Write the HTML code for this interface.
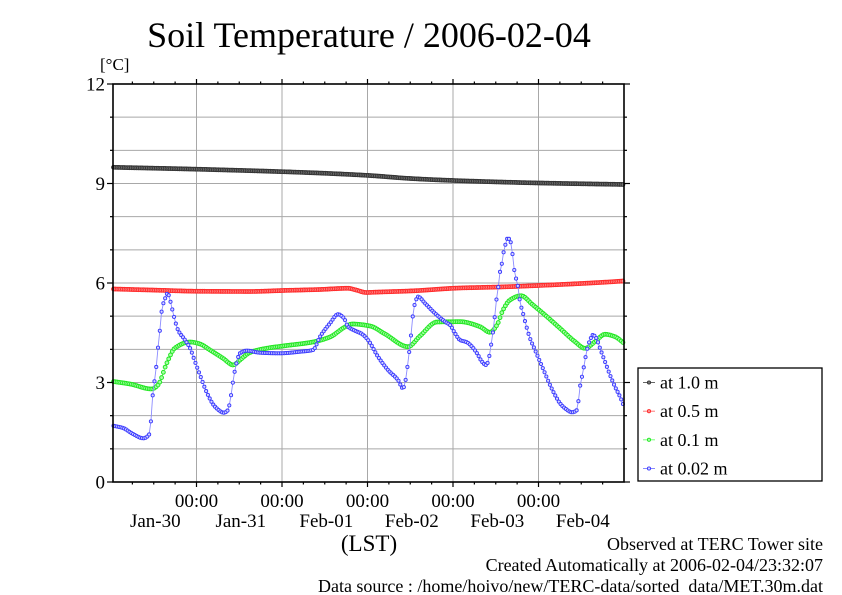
<!DOCTYPE html>
<html>
<head>
<meta charset="utf-8">
<style>
html,body{margin:0;padding:0;background:#fff;}
svg{display:block;}
text{font-family:"Liberation Serif","DejaVu Serif",serif;fill:#000;}
</style>
</head>
<body>
<svg id="s" xmlns="http://www.w3.org/2000/svg" width="842" height="595" viewBox="0 0 842 595">
<rect x="0" y="0" width="842" height="595" fill="#fff"/>
<text x="369" y="47" font-size="36" text-anchor="middle">Soil Temperature / 2006-02-04</text>
<text x="100" y="70" font-size="17">[°C]</text>
<g id="grid"></g>
<g id="series"></g>
<g id="axes"></g>
<g font-size="19" text-anchor="end">
<text x="105" y="90.5">12</text>
<text x="105" y="190">9</text>
<text x="105" y="289.5">6</text>
<text x="105" y="389">3</text>
<text x="105" y="488.5">0</text>
</g>
<g font-size="19" text-anchor="middle">
<text x="196.5" y="507">00:00</text>
<text x="282" y="507">00:00</text>
<text x="367.5" y="507">00:00</text>
<text x="453" y="507">00:00</text>
<text x="538.5" y="507">00:00</text>
<text x="155.3" y="527">Jan-30</text>
<text x="240.8" y="527">Jan-31</text>
<text x="326.3" y="527">Feb-01</text>
<text x="411.8" y="527">Feb-02</text>
<text x="497.3" y="527">Feb-03</text>
<text x="582.8" y="527">Feb-04</text>
</g>
<text x="369" y="551" font-size="23" text-anchor="middle">(LST)</text>
<g font-size="18" text-anchor="end">
<text x="823" y="550">Observed at TERC Tower site</text>
<text x="823" y="571">Created Automatically at 2006-02-04/23:32:07</text>
<text x="823" y="592">Data source : /home/hoivo/new/TERC-data/sorted &#160;data/MET.30m.dat</text>
</g>
<rect x="638" y="368" width="184" height="113" fill="#fff" stroke="#000" stroke-width="1.3"/>
<g id="leg"></g>
<g font-size="18">
<text x="660" y="388.5">at 1.0 m</text>
<text x="660" y="417.2">at 0.5 m</text>
<text x="660" y="445.8">at 0.1 m</text>
<text x="660" y="474.5">at 0.02 m</text>
</g>
</svg>
<script>
(function(){
var NS="http://www.w3.org/2000/svg";
function el(parent,name,attrs){var e=document.createElementNS(NS,name);for(var k in attrs)e.setAttribute(k,attrs[k]);parent.appendChild(e);return e;}
var X0=113,X1=624,Y0=84,Y1=482,U=(Y1-Y0)/12;
var grid=document.getElementById('grid'),axes=document.getElementById('axes'),ser=document.getElementById('series'),leg=document.getElementById('leg');
for(var v=1;v<12;v++){var y=Y1-v*U;el(grid,'line',{x1:X0,x2:X1,y1:y,y2:y,stroke:'#a8a8a8','stroke-width':1});}
for(var k=0;k<5;k++){var x=196.5+85.5*k;el(grid,'line',{x1:x,x2:x,y1:Y0,y2:Y1,stroke:'#a8a8a8','stroke-width':1});}
for(var v=0;v<=12;v++){var y=Y1-v*U;var L=(v%3==0)?6:3;
 el(axes,'line',{x1:X0-L,x2:X0,y1:y,y2:y,stroke:'#000','stroke-width':1.2});
 el(axes,'line',{x1:X1,x2:X1+L,y1:y,y2:y,stroke:'#000','stroke-width':1.2});}
for(var k=-3;k<=20;k++){var x=196.5+21.375*k;if(x<X0+2||x>X1-1)continue;var L=(k%4==0)?5:2.5;
 el(axes,'line',{x1:x,x2:x,y1:Y1,y2:Y1+L,stroke:'#000','stroke-width':1.2});
 el(axes,'line',{x1:x,x2:x,y1:Y0-L,y2:Y0,stroke:'#000','stroke-width':1.2});}
el(axes,'rect',{x:X0,y:Y0,width:X1-X0,height:Y1-Y0,fill:'none',stroke:'#000','stroke-width':1.6});

function mono(P){
 var n=P.length,xs=[],ys=[],h=[],d=[],m=[];
 for(var i=0;i<n;i++){xs.push(P[i][0]);ys.push(P[i][1]);}
 for(var i=0;i<n-1;i++){h[i]=xs[i+1]-xs[i];d[i]=(ys[i+1]-ys[i])/h[i];}
 m[0]=d[0];m[n-1]=d[n-2];
 for(var i=1;i<n-1;i++){
  if(d[i-1]*d[i]<=0){m[i]=0;}
  else{var w1=2*h[i]+h[i-1],w2=h[i]+2*h[i-1];m[i]=(w1+w2)/(w1/d[i-1]+w2/d[i]);}
 }
 return function(x){
  var i=0;while(i<n-2&&x>xs[i+1])i++;
  var hh=h[i],t=(x-xs[i])/hh;if(t<0)t=0;if(t>1)t=1;
  var t2=t*t,t3=t2*t;
  return (2*t3-3*t2+1)*ys[i]+(t3-2*t2+t)*hh*m[i]+(-2*t3+3*t2)*ys[i+1]+(t3-t2)*hh*m[i+1];
 };
}
var black=[[113,167.3],[200,169.3],[310,172.7],[369,175.5],[410,178.5],[453,180.5],[539,183],[624,184.5]];
var red=[[113,289],[150,290],[200,291.3],[250,291.5],[283,290.5],[320,289.5],[348,288.3],[356,290],[366,292.5],[380,292],[410,291],[460,288],[500,287],[550,285],[600,282.5],[624,281]];
var green=[[113,381.5],[130,384],[151.7,389],[158,385],[166.7,363.3],[175,348],[190,342],[200,344],[210,350],[223,358.3],[233.3,365],[240,360],[250,352.5],[266.7,348.3],[283,346],[313,342],[330,337],[345,327],[352,324],[370,326],[385,334],[408,346.7],[420,336],[437,322],[460,321.7],[480,326.7],[490,332.3],[497,325],[503,310],[510,300],[521,295.7],[533,305],[545,315],[560,328.3],[575,341.7],[585,348.3],[595,341.7],[605,334.3],[615,336.7],[624,343.3]];
var blue=[[113,425.7],[123,428],[133,434],[143.3,438.3],[148,436],[150,432],[151,420],[152,401.7],[153.7,388],[155,376.7],[156.7,363],[158,348],[159.3,335.7],[161,319],[162,308],[164,301.7],[167.7,293.3],[170,300],[174,316.7],[178,330],[185,340],[190,348],[195,361.7],[200,375],[207,393],[215,406.7],[224,412.7],[228,410],[230,401.7],[233,381.7],[236,365],[240,353.3],[247,350.7],[260,352.7],[280,353.3],[300,351.7],[313,350],[320,336.7],[330,323.3],[338,314.3],[344,318.3],[348,326.7],[355,330.7],[362,334],[368,340],[378,356.7],[388,370],[398,380],[403,388.3],[406,378],[408,361.7],[410,345],[411.7,328],[413.3,311.7],[415,303.3],[418,296.7],[425,303.3],[435,313.3],[445,321.7],[450,325],[455,333.3],[460,340],[467,342.3],[472,346.7],[477,353.3],[482,361.7],[486,365],[489,358.3],[490,350],[491.7,341.7],[493,331.7],[494.3,320],[495.7,310],[497,293.3],[498.3,286.7],[499,276.7],[501,268.3],[502.7,258.3],[504,250],[505.3,245],[507.7,238.3],[510,240],[512,250],[514,268.3],[516,278.3],[518,286.7],[520,301.7],[523,313.3],[526,325],[530,338.3],[535,350],[540,361.7],[545,373.3],[550,385],[555,395],[560,403.3],[565,408.3],[572,412.3],[577,410],[580,386.7],[583,371.7],[585,360],[587,350],[590,340],[593,335],[596,337.7],[600,348.3],[605,361.7],[610,375],[615,386.7],[620,396.7],[624,406.7]];
function draw(P,lineC,stroke,fill,r,sw){
 var f=mono(P),pts=[],step=85.5/48;
 for(var x=X0+0.5;x<=X1;x+=step){pts.push([x,f(x)]);}
 var g=el(ser,'g',{});
 el(g,'polyline',{points:pts.map(function(p){return p[0].toFixed(2)+','+p[1].toFixed(2);}).join(' '),fill:'none',stroke:lineC,'stroke-width':0.9});
 for(var i=0;i<pts.length;i++){el(g,'circle',{cx:pts[i][0].toFixed(2),cy:pts[i][1].toFixed(2),r:r,fill:fill,stroke:stroke,'stroke-width':sw});}
}
draw(black,'#555','#333','#777',1.9,1);
draw(red,'#f66','#ff2a2a','#ff9090',1.9,1);
draw(green,'#6f6','#22e622','#a8ffa8',1.9,1);
draw(blue,'#8c8cff','#3a3aff','#d8d8ff',1.6,0.9);
var rows=[[382.5,'#666','#333','#777'],[411.2,'#f77','#ff2a2a','#ff9090'],[439.8,'#7f7','#22e622','#a8ffa8'],[468.5,'#88f','#3a3aff','#d8d8ff']];
rows.forEach(function(r){el(leg,'line',{x1:643,x2:655,y1:r[0],y2:r[0],stroke:r[1],'stroke-width':1});el(leg,'circle',{cx:649,cy:r[0],r:1.6,fill:r[3],stroke:r[2],'stroke-width':0.9});});
})();
</script>
</body>
</html>
